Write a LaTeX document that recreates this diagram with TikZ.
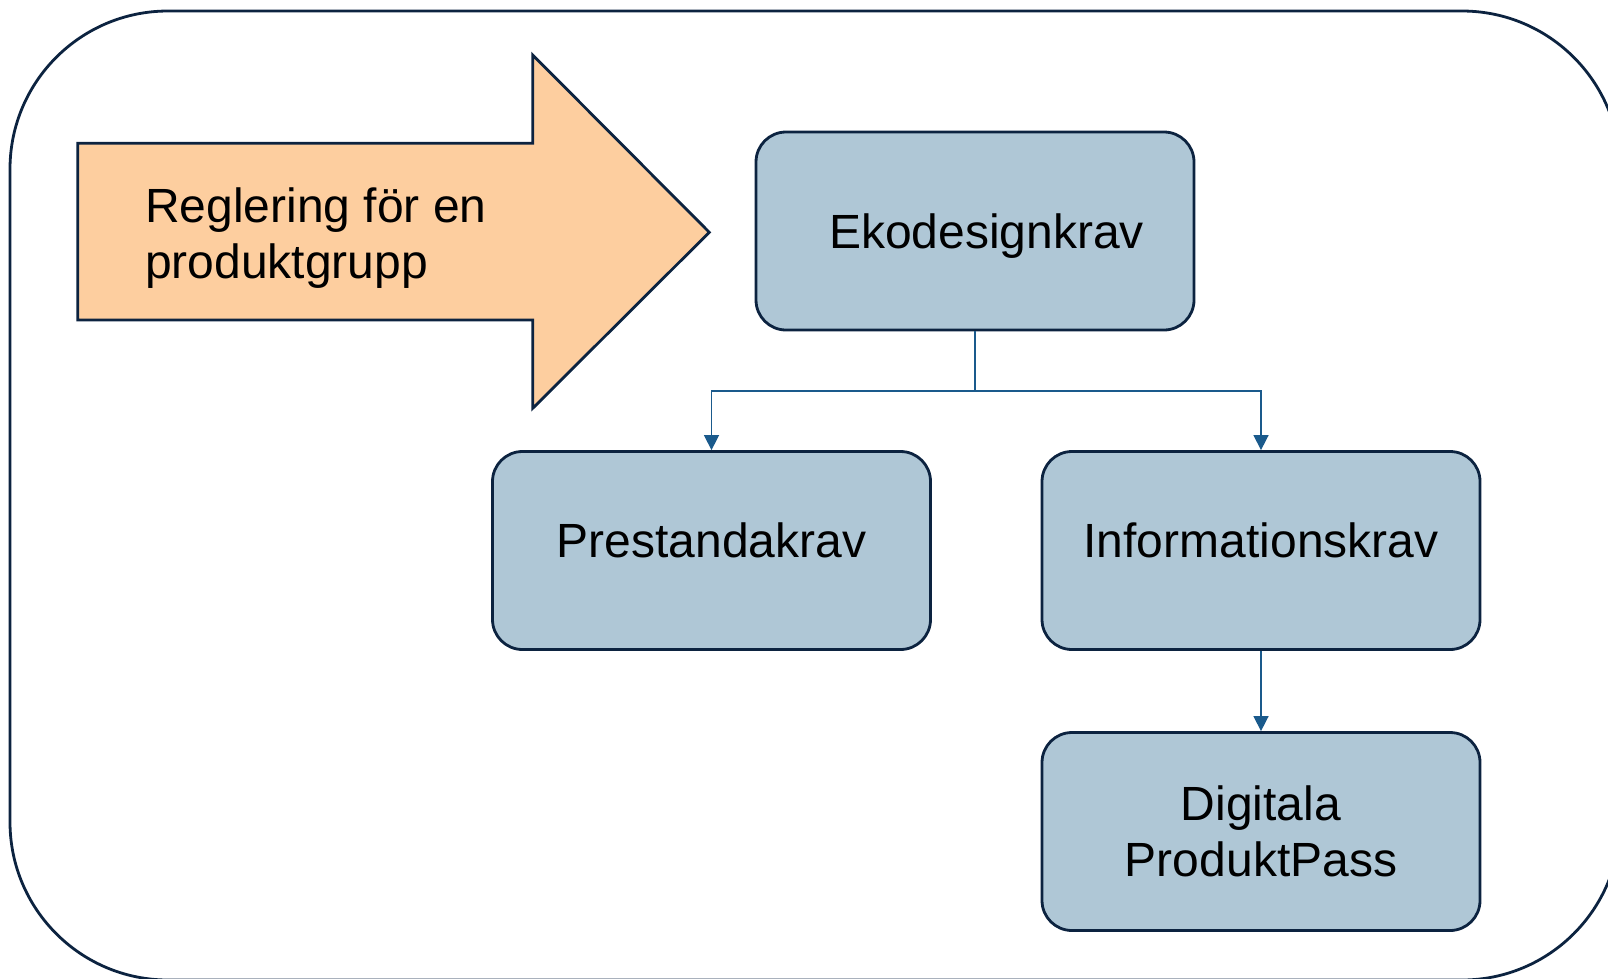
\documentclass[tikz,border=0pt]{standalone}
\usepackage{fontspec}
\setmainfont{Liberation Sans}
\usetikzlibrary{arrows.meta}
\definecolor{navy}{HTML}{0C2340}
\definecolor{boxfill}{HTML}{AFC7D6}
\definecolor{peach}{HTML}{FDCE9F}
\definecolor{connblue}{HTML}{1A5A8C}
\tikzset{
  kravbox/.style={draw=navy, line width=2.8pt, fill=boxfill, rounded corners=30pt,
    minimum width=438pt, minimum height=198pt, inner sep=0pt, align=center,
    font=\fontsize{48}{55.6}\selectfont},
  conn/.style={draw=connblue, line width=1.5pt},
  connarrow/.style={conn, -{Triangle[width=15pt,length=15pt]}},
}
\begin{document}
\begin{tikzpicture}[x=1pt,y=-1pt]
\useasboundingbox (0,0) rectangle (1608,978);
\clip (0,0) rectangle (1608,978);
% outer frame
\draw[navy, line width=2.8pt, rounded corners=158pt] (10,11) rectangle (1620,980);
% big arrow
\draw[navy, line width=2.8pt, fill=peach, line join=miter]
  (77.7,143.3) -- (532.7,143.3) -- (532.7,55) -- (709.3,232.3) -- (532.7,408.3)
  -- (532.7,320) -- (77.7,320) -- cycle;
\node[anchor=west, inner sep=0pt, align=left, font=\fontsize{48}{56.6}\selectfont]
  (regl) at (145,238) {Reglering för en\\produktgrupp};
% boxes
\node[kravbox, text height=35pt, text depth=0pt] (eko) at (975,231) {\hspace*{23pt}Ekodesignkrav};
\node[kravbox, text height=35pt, text depth=22pt] (pre) at (711.5,550.5) {Prestandakrav};
\node[kravbox, text height=35pt, text depth=22pt] (info) at (1261,550.5) {Informationskrav};
\node[kravbox] (dig) at (1261,831.5) {Digitala\\ProduktPass};
% connectors
\coordinate (split) at (975,391);
\draw[conn] (eko.south) -- (split);
\draw[connarrow] (split) -| (pre.north);
\draw[connarrow] (split) -| (info.north);
\draw[connarrow] (info.south) -- (dig.north);
\end{tikzpicture}
\end{document}
